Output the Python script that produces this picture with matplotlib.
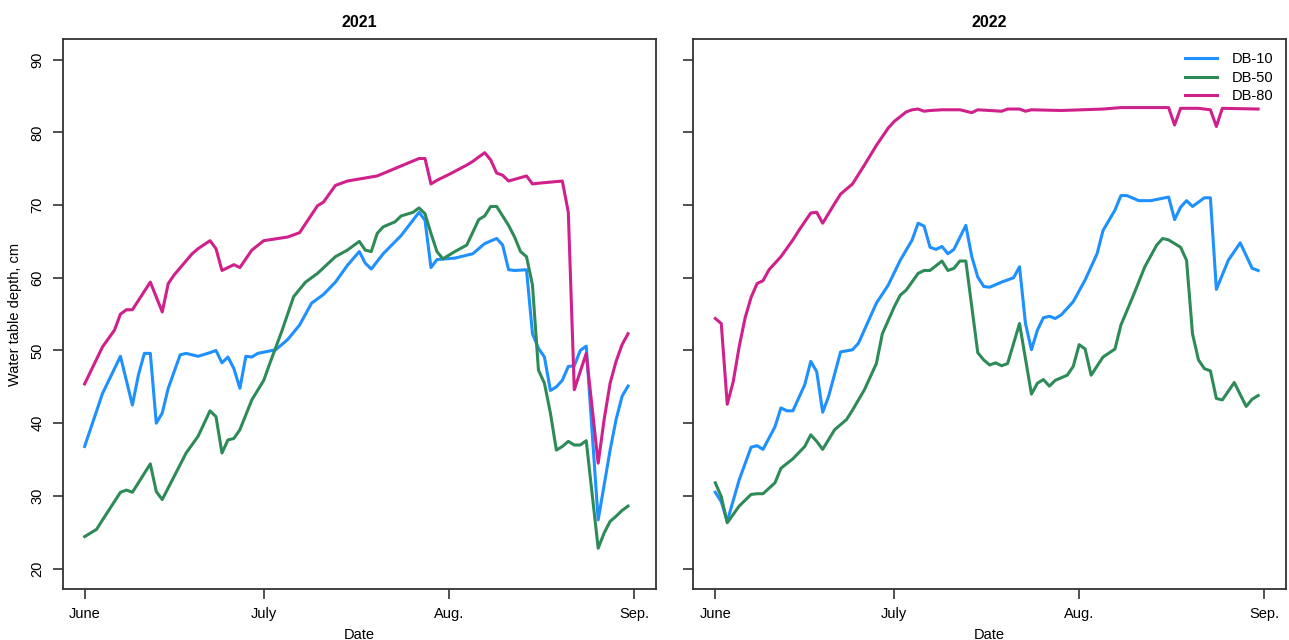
import matplotlib
matplotlib.use("Agg")
import matplotlib.pyplot as plt

plt.rcParams["font.family"] = ["Liberation Sans", "DejaVu Sans"]

# days since 1 June
days_10_2021 = [0, 3, 6, 8, 9, 10, 11, 12, 13, 14, 16, 17, 19, 21, 22, 23, 24, 25, 26, 27,
                28, 29, 32, 34, 36, 38, 40, 42, 44, 46, 47, 48, 50, 53, 56, 57, 58, 59, 62,
                65, 67, 69, 70, 71, 72, 74, 75, 76, 77, 78, 79, 80, 81, 82, 83, 84, 86, 88,
                89, 90, 91]
db10_2021 = [36.8, 44.1, 49.2, 42.5, 46.6, 49.6, 49.6, 40.0, 41.4, 44.8, 49.4, 49.6, 49.2,
             49.7, 50.0, 48.3, 49.1, 47.5, 44.8, 49.2, 49.1, 49.6, 50.1, 51.5, 53.5, 56.5,
             57.7, 59.4, 61.7, 63.6, 62.0, 61.2, 63.3, 65.8, 69.0, 67.9, 61.4, 62.5, 62.7,
             63.3, 64.7, 65.4, 64.5, 61.1, 61.0, 61.1, 52.3, 50.3, 49.1, 44.5, 45.0, 45.9,
             47.8, 47.9, 50.0, 50.6, 26.7, 36.3, 40.5, 43.7, 45.1]

days_50_2021 = [0, 2, 3, 6, 7, 8, 9, 11, 12, 13, 15, 17, 19, 21, 22, 23, 24, 25, 26, 28, 30,
                31, 33, 35, 37, 39, 42, 44, 46, 47, 48, 49, 50, 52, 53, 55, 56, 57, 58, 59,
                60, 62, 64, 66, 67, 68, 69, 71, 72, 73, 74, 75, 76, 77, 78, 79, 80, 81, 82,
                83, 84, 86, 87, 88, 89, 90, 91]
db50_2021 = [24.4, 25.4, 26.7, 30.5, 30.8, 30.5, 31.8, 34.4, 30.6, 29.5, 32.7, 35.9, 38.2,
             41.7, 40.9, 35.9, 37.7, 37.9, 39.1, 43.2, 45.9, 48.2, 52.6, 57.4, 59.4, 60.6,
             62.9, 63.8, 65.0, 63.8, 63.6, 66.1, 67.0, 67.7, 68.5, 69.0, 69.6, 68.8, 66.1,
             63.6, 62.6, 63.6, 64.5, 68.0, 68.5, 69.8, 69.8, 67.2, 65.6, 63.6, 62.9, 59.0,
             47.3, 45.5, 41.4, 36.3, 36.8, 37.5, 37.0, 37.0, 37.6, 22.8, 24.9, 26.5, 27.2,
             28.0, 28.6]

days_80_2021 = [0, 3, 5, 6, 7, 8, 11, 13, 14, 15, 18, 19, 21, 22, 23, 25, 26, 28, 30, 34,
                36, 39, 40, 42, 44, 49, 56, 57, 58, 59, 61, 64, 65, 67, 68, 69, 70, 71, 74,
                75, 76, 80, 81, 82, 84, 86, 87, 88, 89, 90, 91]
db80_2021 = [45.4, 50.5, 52.8, 55.0, 55.6, 55.6, 59.4, 55.3, 59.2, 60.4, 63.3, 64.0, 65.1,
             64.0, 61.0, 61.8, 61.4, 63.8, 65.1, 65.6, 66.2, 69.9, 70.4, 72.7, 73.3, 74.0,
             76.4, 76.4, 72.9, 73.4, 74.2, 75.5, 76.0, 77.2, 76.2, 74.4, 74.1, 73.3, 74.0,
             72.9, 73.0, 73.3, 69.0, 44.6, 49.6, 34.5, 40.5, 45.5, 48.5, 50.8, 52.3]

days_10_2022 = [0, 1, 2, 4, 6, 7, 8, 10, 11, 12, 13, 15, 16, 17, 18, 19, 21, 23, 24, 27,
                29, 31, 33, 34, 35, 36, 37, 38, 39, 40, 42, 43, 44, 45, 46, 48, 50, 51, 52,
                53, 54, 55, 56, 57, 58, 60, 62, 64, 65, 67, 68, 69, 71, 73, 76, 77, 78, 79,
                80, 82, 83, 84, 86, 88, 90, 91]
db10_2022 = [30.5, 29.2, 26.5, 32.2, 36.7, 36.9, 36.4, 39.5, 42.1, 41.7, 41.7, 45.3, 48.5,
             47.1, 41.5, 43.7, 49.8, 50.1, 51.0, 56.5, 59.0, 62.4, 65.2, 67.5, 67.1, 64.2,
             63.9, 64.3, 63.3, 63.9, 67.2, 62.9, 60.1, 58.8, 58.7, 59.4, 60.0, 61.5, 53.7,
             50.1, 52.8, 54.5, 54.7, 54.4, 54.9, 56.7, 59.7, 63.3, 66.5, 69.3, 71.3, 71.3,
             70.6, 70.6, 71.1, 68.0, 69.7, 70.6, 69.8, 71.0, 71.0, 58.4, 62.4, 64.8, 61.3,
             61.0]

days_50_2022 = [0, 1, 2, 4, 6, 7, 8, 10, 11, 13, 15, 16, 17, 18, 20, 22, 23, 25, 27, 28,
                30, 31, 32, 34, 35, 36, 38, 39, 40, 41, 42, 43, 44, 45, 46, 47, 48, 49, 51,
                53, 54, 55, 56, 57, 59, 60, 61, 62, 63, 65, 67, 68, 70, 72, 74, 75, 76, 77,
                78, 79, 80, 81, 82, 83, 84, 85, 87, 89, 90, 91]
db50_2022 = [31.8, 29.9, 26.3, 28.6, 30.2, 30.3, 30.3, 31.8, 33.8, 35.1, 36.8, 38.4, 37.5,
             36.4, 39.1, 40.5, 41.8, 44.6, 48.2, 52.3, 56.0, 57.6, 58.3, 60.6, 61.0, 61.0,
             62.3, 61.0, 61.3, 62.3, 62.3, 56.0, 49.7, 48.7, 48.0, 48.3, 47.9, 48.2, 53.7,
             44.0, 45.5, 46.0, 45.1, 45.9, 46.6, 47.8, 50.8, 50.2, 46.6, 49.1, 50.2, 53.5,
             57.4, 61.5, 64.5, 65.4, 65.2, 64.7, 64.2, 62.4, 52.3, 48.7, 47.5, 47.2, 43.4,
             43.2, 45.6, 42.3, 43.3, 43.8]

days_80_2022 = [0, 1, 2, 3, 4, 5, 6, 7, 8, 9, 11, 13, 14, 16, 17, 18, 20, 21, 23, 25, 27,
                29, 30, 32, 33, 34, 35, 36, 38, 41, 43, 44, 48, 49, 51, 52, 53, 58, 65, 68,
                76, 77, 78, 81, 83, 84, 85, 91]
db80_2022 = [54.4, 53.7, 42.6, 45.7, 50.5, 54.5, 57.3, 59.2, 59.6, 61.1, 62.9, 65.2, 66.5,
             68.9, 69.0, 67.5, 70.2, 71.5, 72.9, 75.5, 78.2, 80.6, 81.5, 82.8, 83.1, 83.2,
             82.9, 83.0, 83.1, 83.1, 82.7, 83.1, 82.9, 83.2, 83.2, 82.9, 83.1, 83.0, 83.2,
             83.4, 83.4, 81.0, 83.3, 83.3, 83.1, 80.8, 83.3, 83.2]

years = ["2021", "2022"]
series = {
    "2021": [(days_10_2021, db10_2021), (days_50_2021, db50_2021), (days_80_2021, db80_2021)],
    "2022": [(days_10_2022, db10_2022), (days_50_2022, db50_2022), (days_80_2022, db80_2022)],
}
labels = ["DB-10", "DB-50", "DB-80"]
colors = ["#1E90FF", "#2E8B57", "#D0208C"]

month_days = [0, 30, 61, 92]
month_labels = ["June", "July", "Aug.", "Sep."]
y_ticks = [20, 30, 40, 50, 60, 70, 80, 90]

fig = plt.figure(figsize=(12.89, 6.4), dpi=100)
axes = [fig.add_axes([0.0486, 0.0797, 0.4603, 0.859]),
        fig.add_axes([0.5379, 0.0797, 0.4598, 0.859])]

for i, (ax, year) in enumerate(zip(axes, years)):
    for (d, v), lab, col in zip(series[year], labels, colors):
        ax.plot(d, v, color=col, lw=2.2, label=lab, solid_joinstyle="round")
    ax.set_xlim(-3.68, 95.68)
    ax.set_ylim(17.2, 92.8)
    ax.set_xticks(month_days)
    ax.set_xticklabels(month_labels)
    ax.set_yticks(y_ticks)
    ax.set_title(year, fontsize=11.5, fontweight="bold", pad=9)
    ax.set_xlabel("Date", fontsize=10.5, labelpad=5)
    ax.tick_params(direction="out", length=7, width=1.2, color="#333333",
                   labelsize=10.5, pad=6)
    for sp in ax.spines.values():
        sp.set_linewidth(1.3)
        sp.set_color("#333333")
    if i == 0:
        ax.set_yticklabels([str(t) for t in y_ticks], rotation=90, va="center")
        ax.set_ylabel("Water table depth, cm", fontsize=10.5, labelpad=6)
    else:
        ax.set_yticklabels([])
        ax.legend(loc="upper right", frameon=False, fontsize=10.5, handlelength=2.2,
                  handletextpad=1.0, labelspacing=0.3, borderaxespad=0.5)

fig.savefig("out.png", dpi=100)
